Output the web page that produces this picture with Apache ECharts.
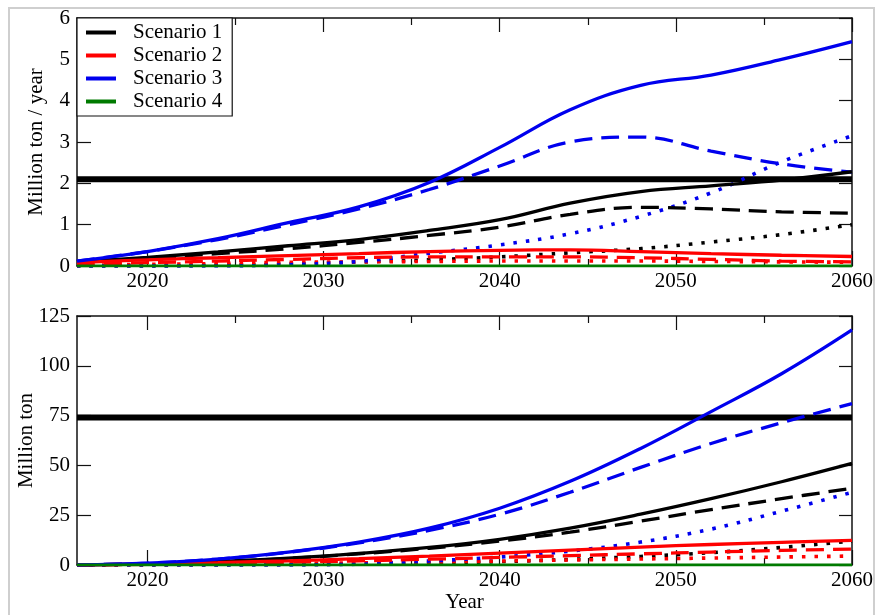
<!DOCTYPE html>
<html><head><meta charset="utf-8">
<script src="https://cdn.jsdelivr.net/npm/echarts@6/dist/echarts.min.js"></script>
<style>html,body{margin:0;padding:0;background:#fff}#c{width:877px;height:615px}</style>
</head><body><div id="c"></div>
<script>
// ---------------- DATA ----------------
const years = [2016, 2020, 2024, 2028, 2032, 2036, 2040, 2044, 2048, 2052, 2056, 2060];
const xTickLabels = [2020, 2030, 2040, 2050, 2060];
const xMinorTicks = [2025, 2035, 2045, 2055];
const scenarioNames = ['Scenario 1', 'Scenario 2', 'Scenario 3', 'Scenario 4'];

// Top panel: Million ton / year
const rateLimitS1 = 2.1;
const rateS1Solid  = [0.10, 0.21, 0.34, 0.49, 0.64, 0.86, 1.12, 1.52, 1.80, 1.94, 2.08, 2.28];
const rateS1Dashed = [0.10, 0.19, 0.30, 0.42, 0.57, 0.74, 0.94, 1.25, 1.42, 1.38, 1.31, 1.28];
const rateS1Dotted = [0.00, 0.00, 0.02, 0.05, 0.10, 0.15, 0.22, 0.32, 0.42, 0.58, 0.76, 1.00];
const rateS2Solid  = [0.08, 0.15, 0.20, 0.25, 0.30, 0.35, 0.38, 0.39, 0.35, 0.30, 0.26, 0.23];
const rateS2Dashed = [0.03, 0.08, 0.12, 0.16, 0.20, 0.22, 0.22, 0.22, 0.20, 0.16, 0.12, 0.10];
const rateS2Dotted = [0.01, 0.04, 0.06, 0.09, 0.10, 0.11, 0.12, 0.12, 0.12, 0.11, 0.10, 0.09];
const rateS3Solid  = [0.12, 0.35, 0.66, 1.05, 1.43, 2.02, 2.87, 3.78, 4.37, 4.62, 5.00, 5.43];
const rateS3Dashed = [0.12, 0.35, 0.64, 1.00, 1.38, 1.85, 2.42, 3.00, 3.12, 2.78, 2.47, 2.27];
const rateS3Dotted = [0.00, 0.00, 0.00, 0.03, 0.11, 0.31, 0.51, 0.78, 1.20, 1.77, 2.52, 3.15];
const rateS4Solid  = [0, 0, 0, 0, 0, 0, 0, 0, 0, 0, 0, 0];

// Bottom panel: Million ton (cumulative)
const cumLimitS1 = 74;
const cumS1Solid  = [0, 0.6, 1.7, 3.4, 5.8, 8.8, 12.9, 18.5, 25.5, 33.3, 41.8, 51.0];
const cumS1Dashed = [0, 0.6, 1.6, 3.3, 5.6, 8.4, 12.0, 16.5, 22.0, 27.8, 33.3, 38.5];
const cumS1Dotted = [0, 0, 0.05, 0.2, 0.5, 1.0, 1.7, 2.8, 4.3, 6.2, 8.8, 12.0];
const cumS2Solid  = [0, 0.5, 1.2, 2.1, 3.2, 4.5, 6.0, 7.5, 9.0, 10.3, 11.4, 12.4];
const cumS2Dashed = [0, 0.3, 0.8, 1.4, 2.1, 2.9, 3.8, 4.7, 5.6, 6.5, 7.3, 8.0];
const cumS2Dotted = [0, 0.15, 0.35, 0.7, 1.1, 1.5, 2.0, 2.5, 3.0, 3.5, 4.0, 4.5];
const cumS3Solid  = [0, 0.9, 3.0, 6.5, 11.5, 18.5, 28.5, 42.0, 58.5, 77.0, 96.0, 118.0];
const cumS3Dashed = [0, 0.9, 3.0, 6.4, 11.1, 17.4, 25.5, 36.5, 49.0, 61.0, 71.4, 81.0];
const cumS3Dotted = [0, 0, 0, 0.05, 0.4, 2.0, 4.0, 7.0, 11.5, 18.0, 27.0, 36.5];
const cumS4Solid  = [0, 0, 0, 0, 0, 0, 0, 0, 0, 0, 0, 0];

// ---------------- STYLE ----------------
const colors = ['#000000', '#ff0000', '#0000ee', '#007a00'];
const FONT = 'Liberation Serif';
const FS = 21;
const pairs = arr => arr.map((v, i) => [years[i], v]);
const limitPairs = v => [[years[0], v], [years[years.length - 1], v]];
const DASH = [18, 9];
const DOT = [3.5, 9];
const LW = 3.3;

function line(name, colorIdx, data, kind, xi, yi, width) {
  const lt = kind === 'dashed' ? DASH : (kind === 'dotted' ? DOT : 'solid');
  return {
    type: 'line', name, data, xAxisIndex: xi, yAxisIndex: yi,
    showSymbol: false, symbol: 'none', smooth: 0.4, silent: true,
    color: colors[colorIdx],
    itemStyle: {color: colors[colorIdx]},
    lineStyle: {color: colors[colorIdx], width: width || LW, type: lt, cap: 'butt'},
    animation: false, clip: true
  };
}

function panelSeries(xi, yi, limit, s1, s2, s3, s4) {
  return [
    line(scenarioNames[0] + ' limit', 0, limitPairs(limit), 'solid', xi, yi, 6),
    line(scenarioNames[0] + ' dotted', 0, pairs(s1[2]), 'dotted', xi, yi, 3.6),
    line(scenarioNames[1] + ' dotted', 1, pairs(s2[2]), 'dotted', xi, yi, 3.6),
    line(scenarioNames[2] + ' dotted', 2, pairs(s3[2]), 'dotted', xi, yi, 3.6),
    line(scenarioNames[0] + ' dashed', 0, pairs(s1[1]), 'dashed', xi, yi),
    line(scenarioNames[1] + ' dashed', 1, pairs(s2[1]), 'dashed', xi, yi),
    line(scenarioNames[2] + ' dashed', 2, pairs(s3[1]), 'dashed', xi, yi),
    line(scenarioNames[0], 0, pairs(s1[0]), 'solid', xi, yi),
    line(scenarioNames[1], 1, pairs(s2[0]), 'solid', xi, yi),
    line(scenarioNames[2], 2, pairs(s3[0]), 'solid', xi, yi),
    line(scenarioNames[3], 3, pairs(s4[0]), 'solid', xi, yi, 3)
  ];
}

const axisLineStyle = {show: true, lineStyle: {color: '#111', width: 1.5}};
const tickStyle = {color: '#111', width: 1.2};
const txt = {fontFamily: FONT, fontSize: FS, color: '#000'};

function xAxes(gi, withName) {
  const base = {type: 'value', gridIndex: gi, min: 2016, max: 2060, splitLine: {show: false}};
  return [
    Object.assign({}, base, {
      position: 'bottom', axisLine: axisLineStyle,
      axisTick: {show: true, inside: true, length: 15, lineStyle: tickStyle, customValues: xTickLabels},
      axisLabel: Object.assign({show: true, margin: 5, customValues: xTickLabels, formatter: v => String(v)}, txt),
      name: withName ? 'Year' : '', nameLocation: 'middle', nameGap: 27, nameMoveOverlap: false,
      nameTextStyle: txt
    }),
    Object.assign({}, base, {
      position: 'bottom', axisLine: {show: false},
      axisTick: {show: true, inside: true, length: 7, lineStyle: tickStyle, customValues: xMinorTicks},
      axisLabel: {show: false}
    }),
    Object.assign({}, base, {
      position: 'top', axisLine: axisLineStyle,
      axisTick: {show: true, inside: true, length: 14, lineStyle: tickStyle, customValues: xTickLabels},
      axisLabel: {show: false}
    }),
    Object.assign({}, base, {
      position: 'top', axisLine: {show: false},
      axisTick: {show: true, inside: true, length: 7, lineStyle: tickStyle, customValues: xMinorTicks},
      axisLabel: {show: false}
    })
  ];
}

function yAxes(gi, max, interval, name, gap) {
  return [
    {type: 'value', gridIndex: gi, position: 'left', min: 0, max: max, interval: interval,
     splitLine: {show: false}, axisLine: axisLineStyle,
     axisTick: {show: true, inside: true, length: 14, lineStyle: tickStyle},
     axisLabel: Object.assign({margin: 7}, txt),
     name: name, nameLocation: 'middle', nameGap: gap, nameMoveOverlap: false, nameTextStyle: txt},
    {type: 'value', gridIndex: gi, position: 'right', min: 0, max: max, interval: interval,
     splitLine: {show: false}, axisLine: axisLineStyle,
     axisTick: {show: true, inside: true, length: 13, lineStyle: tickStyle},
     axisLabel: {show: false}}
  ];
}

const series = [].concat(
  panelSeries(0, 0, rateLimitS1,
    [rateS1Solid, rateS1Dashed, rateS1Dotted],
    [rateS2Solid, rateS2Dashed, rateS2Dotted],
    [rateS3Solid, rateS3Dashed, rateS3Dotted],
    [rateS4Solid]),
  panelSeries(4, 2, cumLimitS1,
    [cumS1Solid, cumS1Dashed, cumS1Dotted],
    [cumS2Solid, cumS2Dashed, cumS2Dotted],
    [cumS3Solid, cumS3Dashed, cumS3Dotted],
    [cumS4Solid])
);

const chart = echarts.init(document.getElementById('c'), null, {renderer: 'canvas'});
chart.setOption({
  animation: false,
  backgroundColor: '#fff',
  graphic: [{type: 'rect', silent: true, z: -10,
    shape: {x: 9, y: 8, width: 865, height: 640},
    style: {fill: 'none', stroke: '#cfcfcf', lineWidth: 2}}],
  grid: [
    {left: 77, top: 18, width: 775, height: 248},
    {left: 77, top: 316, width: 775, height: 249}
  ],
  xAxis: [].concat(xAxes(0, false), xAxes(1, true)),
  yAxis: [].concat(yAxes(0, 6, 1, 'Million ton / year', 30), yAxes(1, 125, 25, 'Million ton', 40)),
  legend: {
    data: scenarioNames, orient: 'vertical', left: 77, top: 18,
    backgroundColor: '#fff', borderColor: '#111', borderWidth: 1.2,
    padding: [4, 10, 4, 9], itemGap: 2, itemWidth: 30, itemHeight: 4, icon: 'rect',
    selectedMode: false,
    textStyle: {fontFamily: FONT, fontSize: FS, color: '#000', lineHeight: 21, padding: [0, 0, 0, 12]}
  },
  series: series
});
</script></body></html>
